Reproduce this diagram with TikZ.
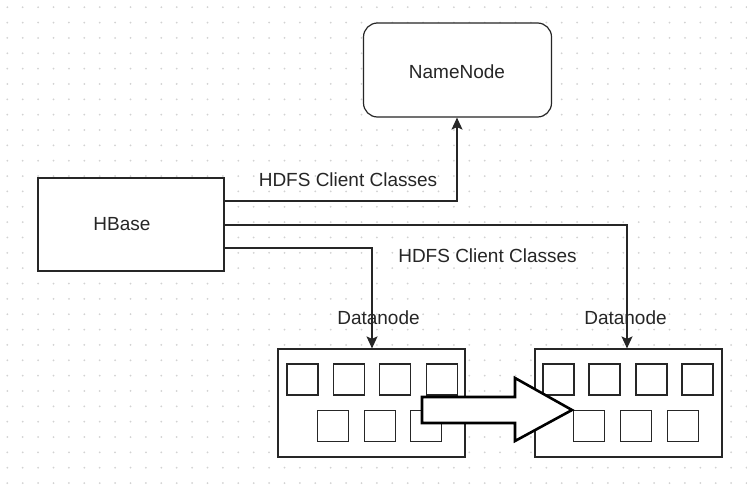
\documentclass[tikz,border=0pt]{standalone}
\usepackage{fontspec}
\setmainfont{Liberation Sans}
\usetikzlibrary{arrows.meta}
\definecolor{gridgray}{HTML}{D2D2D2}
\definecolor{ink}{HTML}{262626}
\tikzset{
  box/.style={draw=ink, line width=1.2pt, fill=white, inner sep=0pt},
  cell/.style={box, minimum width=31pt, minimum height=31pt},
  lbl/.style={text=ink, font=\fontsize{19}{22}\selectfont, inner sep=0pt},
  link/.style={draw=ink, line width=1.2pt, -{Stealth[length=12pt,width=11pt,inset=2.5pt]}},
}
\begin{document}
\begin{tikzpicture}[x=1pt, y=-1pt]
\useasboundingbox (0,0) rectangle (747,490);
\fill[white] (0,0) rectangle (747,490);
% dotted background grid
\foreach \i in {0,...,48}
  \foreach \j in {0,...,31}
    \fill[gridgray] ({7.3+15.4*\i},{7.2+15.35*\j}) circle (1pt);

% main boxes
\node[box, rounded corners=14pt, minimum width=188pt, minimum height=94pt] (namenode) at (457.5,70) {};
\node[lbl] (nnlabel) at (457,72) {NameNode};
\node[box, minimum width=186pt, minimum height=93pt] (hbase) at (131,224.5) {};
\node[lbl] (hblabel) at (122,224) {HBase};
\node[box, minimum width=187pt, minimum height=108pt] (dn1) at (371.5,403) {};
\node[box, minimum width=187pt, minimum height=108pt] (dn2) at (628.5,403) {};

% storage blocks inside the datanodes
\foreach \x [count=\k] in {302.5,349,395,442}
  \node[cell] (a\k) at (\x,379.5) {};
\foreach \x [count=\k] in {333,380,426}
  \node[cell] (b\k) at (\x,426) {};
\foreach \x [count=\k] in {558.5,604.5,651.5,697.5}
  \node[cell] (c\k) at (\x,379.5) {};
\foreach \x [count=\k] in {589,636,683}
  \node[cell] (d\k) at (\x,426) {};

% client connections
\draw[link] ([yshift=23.5pt]hbase.east) -| ([xshift=-0.5pt]namenode.south);
\draw[link] ([yshift=-0.5pt]hbase.east) -| ([xshift=-1.5pt]dn2.north);
\draw[link] ([yshift=-23.5pt]hbase.east) -| ([xshift=0.5pt]dn1.north);

% labels
\node[lbl] (hdfs1) at (348,180) {HDFS Client Classes};
\node[lbl] (hdfs2) at (487.5,256) {HDFS Client Classes};
\node[lbl] (dnl1) at (378.5,318) {Datanode};
\node[lbl] (dnl2) at (625.5,318) {Datanode};

% replication block arrow
\draw[line width=2.6pt, draw=black, fill=white, line join=miter]
  (422,397) -- (515,397) -- (515,378) -- (572,410) -- (515,441) -- (515,423) -- (422,423) -- cycle;
\end{tikzpicture}
\end{document}
